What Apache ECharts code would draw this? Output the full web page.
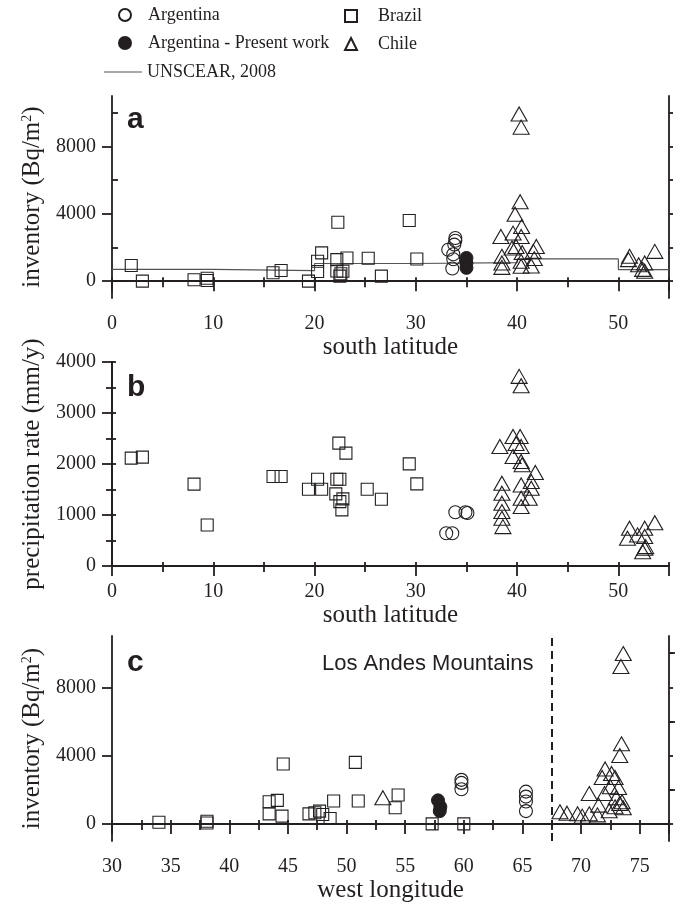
<!DOCTYPE html>
<html>
<head>
<meta charset="utf-8">
<script src="https://cdn.jsdelivr.net/npm/echarts@6/dist/echarts.min.js"></script>
<style>
html,body{margin:0;padding:0;background:#fff;}
#main{width:681px;height:909px;}
</style>
</head>
<body>
<div id="main"></div>
<script>
// panel a : inventory vs south latitude
var aBrazil=[[1.9,930],[3.0,0],[8.1,80],[9.4,170],[9.4,40],[15.9,500],[16.7,630],[19.4,0],[20.3,1180],[20.3,570],[20.7,1680],[22.3,3500],[22.2,1280],[22.2,600],[22.6,440],[22.8,590],[22.5,300],[23.2,1380],[25.3,1360],[26.6,300],[29.35,3600],[30.1,1320]];
var aArgentina=[[33.9,2560],[33.9,2400],[33.8,2170],[33.2,1870],[33.7,1600],[33.7,1300],[33.6,750]];
var aPresent=[[35.0,1380],[35.0,1080],[35.0,790]];
var aChile=[[40.2,9935],[40.4,9150],[40.3,4720],[39.8,3980],[40.45,3245],[39.6,2855],[38.4,2655],[40.4,2655],[39.5,1970],[39.9,2065],[41.9,2065],[40.5,1700],[41.6,1770],[38.5,1475],[41.7,1340],[38.5,1085],[38.5,820],[40.4,1180],[40.4,890],[41.4,900],[51.1,1475],[51.0,1280],[53.6,1770],[52.6,1085],[52.6,590],[52.4,700],[52.0,970]];
var bandStart=[0,10,20,30,40,50,55];
var unscear=[700,630,1050,1100,1320,690,690];

// panel b : precipitation rate vs south latitude
var bBrazil=[[1.9,2115],[3.0,2135],[8.1,1605],[9.4,805],[15.9,1755],[16.7,1755],[19.4,1505],[20.3,1700],[20.7,1505],[22.4,2410],[23.1,2213],[22.2,1700],[22.5,1700],[22.1,1414],[22.5,1263],[22.8,1316],[22.7,1100],[25.2,1505],[26.6,1310],[29.35,2003],[30.1,1610]];
var bArgentina=[[33.9,1055],[34.9,1055],[35.1,1040],[33.0,642],[33.6,642]];
var bChile=[[40.2,3718],[40.4,3535],[39.6,2540],[40.3,2540],[38.3,2343],[39.9,2400],[40.4,2343],[39.6,2147],[40.4,2050],[40.5,1985],[41.8,1833],[41.4,1656],[41.4,1525],[41.2,1330],[38.5,1624],[38.5,1427],[38.5,1231],[38.5,1067],[38.5,935],[38.6,772],[40.4,1590],[40.4,1330],[40.4,1165],[51.1,740],[50.9,545],[51.9,610],[52.6,740],[53.6,850],[52.6,580],[52.6,347],[52.4,280],[52.7,380]];

// panel c : inventory vs west longitude
var cBrazil=[[34.0,100],[38.1,160],[38.1,50],[44.6,3510],[43.4,1300],[44.1,1380],[43.4,590],[44.5,455],[46.8,590],[47.3,650],[47.7,750],[47.97,555],[48.6,320],[48.9,1340],[50.75,3605],[51.0,1340],[54.4,1695],[54.15,945],[57.3,0],[60.0,0]];
var cArgentina=[[59.8,2580],[59.8,2400],[59.8,2030],[65.3,1890],[65.3,1600],[65.3,1310],[65.3,750]];
var cPresent=[[57.8,1380],[58.0,1000],[57.95,750]];
var cChile=[[53.1,1535],[73.6,9970],[73.4,9220],[73.45,4690],[73.3,4000],[72.05,3215],[72.6,2950],[71.8,2720],[72.9,2720],[73.2,2130],[72.5,2170],[70.7,1775],[72.0,1775],[73.0,1535],[71.5,1100],[72.9,1000],[73.6,940],[68.2,710],[68.8,630],[69.7,590],[70.1,455],[70.7,590],[71.4,530],[72.4,770],[73.5,1300],[73.3,1200]];
var andesLon=67.5;

var invTicks=[0,4000,8000];
var invMinor=[2000,6000,10000];
var invRight=[0,2000,4000,6000,8000,10000];

var ink='#231f20';
var serif="'Liberation Serif','Times New Roman',serif";
var sans="'Liberation Sans',Arial,sans-serif";

var myChart=echarts.init(document.getElementById('main'));

var tickLbl={color:ink,fontFamily:serif,fontSize:20,margin:16,formatter:function(v){return String(v);}};
var nameSty={color:ink,fontFamily:serif,fontSize:25,
	rich:{sup:{fontSize:14,fontFamily:serif,color:ink,verticalAlign:'top',lineHeight:14}}};
var lineSty={color:ink,width:1.8};

function unscearLine(){
	var d=[];
	for(var i=0;i<bandStart.length;i++){d.push([bandStart[i],unscear[i]]);}
	return d;
}

var grids=[
	{left:112,right:12,top:96,height:202},
	{left:112,right:12,top:362,height:204},
	{left:112,right:12,top:636,height:205}
];

var xAxes=[];
var yAxes=[];
// bottom x axes
xAxes.push({gridIndex:0,type:'value',min:0,max:55,interval:10,name:'south latitude',nameLocation:'middle',nameGap:36,nameTextStyle:nameSty,
	axisLine:{lineStyle:lineSty},axisTick:{length:10,lineStyle:lineSty},minorTick:{show:true,splitNumber:2,length:6,lineStyle:lineSty},
	axisLabel:Object.assign({showMaxLabel:false},tickLbl),splitLine:{show:false}});
xAxes.push({gridIndex:1,type:'value',min:0,max:55,interval:10,name:'south latitude',nameLocation:'middle',nameGap:36,nameTextStyle:nameSty,
	axisLine:{lineStyle:lineSty},axisTick:{length:10,lineStyle:lineSty},minorTick:{show:true,splitNumber:2,length:6,lineStyle:lineSty},
	axisLabel:Object.assign({showMaxLabel:false},tickLbl),splitLine:{show:false}});
xAxes.push({gridIndex:2,type:'value',min:30,max:77.5,interval:5,name:'west longitude',nameLocation:'middle',nameGap:36,nameTextStyle:nameSty,
	axisLine:{lineStyle:lineSty},axisTick:{length:10,lineStyle:lineSty},minorTick:{show:true,splitNumber:2,length:6,lineStyle:lineSty},
	axisLabel:Object.assign({showMaxLabel:false},tickLbl),splitLine:{show:false}});
// top x axes (frame + small ticks)
xAxes.push({gridIndex:0,type:'value',position:'top',min:0,max:55,interval:5,axisLine:{lineStyle:lineSty},axisTick:{length:4,lineStyle:lineSty},axisLabel:{show:false},splitLine:{show:false}});
xAxes.push({gridIndex:1,type:'value',position:'top',min:0,max:55,interval:5,axisLine:{lineStyle:lineSty},axisTick:{length:4,lineStyle:lineSty},axisLabel:{show:false},splitLine:{show:false}});
xAxes.push({gridIndex:2,type:'value',position:'top',min:30,max:77.5,interval:2.5,axisLine:{lineStyle:lineSty},axisTick:{length:4,lineStyle:lineSty},axisLabel:{show:false},splitLine:{show:false}});

// left y axes
yAxes.push({gridIndex:0,type:'value',min:-1000,max:11000,name:'inventory (Bq/m{sup|2})',nameLocation:'middle',nameGap:67,nameTextStyle:nameSty,
	axisLine:{lineStyle:lineSty},axisTick:{length:10,customValues:invTicks,lineStyle:lineSty},
	axisLabel:Object.assign({customValues:invTicks},tickLbl,{margin:16}),splitLine:{show:false}});
yAxes.push({gridIndex:1,type:'value',min:0,max:4000,interval:1000,name:'precipitation rate (mm/y)',nameLocation:'middle',nameGap:67,nameTextStyle:nameSty,
	axisLine:{lineStyle:lineSty},axisTick:{length:10,lineStyle:lineSty},minorTick:{show:true,splitNumber:2,length:6,lineStyle:lineSty},
	axisLabel:Object.assign({},tickLbl,{margin:16}),splitLine:{show:false}});
yAxes.push({gridIndex:2,type:'value',min:-1000,max:11000,name:'inventory (Bq/m{sup|2})',nameLocation:'middle',nameGap:67,nameTextStyle:nameSty,
	axisLine:{lineStyle:lineSty},axisTick:{length:10,customValues:invTicks,lineStyle:lineSty},
	axisLabel:Object.assign({customValues:invTicks},tickLbl,{margin:16}),splitLine:{show:false}});
// minor ticks on the inventory axes
yAxes.push({gridIndex:0,type:'value',min:-1000,max:11000,axisLine:{show:false},axisTick:{length:6,customValues:invMinor,lineStyle:lineSty},axisLabel:{show:false},splitLine:{show:false}});
yAxes.push({gridIndex:2,type:'value',min:-1000,max:11000,axisLine:{show:false},axisTick:{length:6,customValues:invMinor,lineStyle:lineSty},axisLabel:{show:false},splitLine:{show:false}});
// right y axes
yAxes.push({gridIndex:0,type:'value',position:'right',min:-1000,max:11000,axisLine:{lineStyle:lineSty},axisTick:{length:4,customValues:invRight,lineStyle:lineSty},axisLabel:{show:false},splitLine:{show:false}});
yAxes.push({gridIndex:1,type:'value',position:'right',min:0,max:4000,interval:500,axisLine:{lineStyle:lineSty},axisTick:{length:4,lineStyle:lineSty},axisLabel:{show:false},splitLine:{show:false}});
yAxes.push({gridIndex:2,type:'value',position:'right',min:-1000,max:11000,axisLine:{lineStyle:lineSty},axisTick:{length:4,customValues:invRight,lineStyle:lineSty},axisLabel:{show:false},splitLine:{show:false}});

var hollow={color:'rgba(255,255,255,0)',borderColor:ink,borderWidth:1.1,opacity:1};
function pts(name,data,xi,yi,symbol,size,filled){
	return {name:name,type:'scatter',xAxisIndex:xi,yAxisIndex:yi,data:data,symbol:symbol,symbolSize:size,
		itemStyle:filled?{color:ink,borderColor:ink,borderWidth:1,opacity:1}:hollow,emphasis:{disabled:true},z:3};
}

var series=[
	{name:'UNSCEAR, 2008',type:'line',xAxisIndex:0,yAxisIndex:0,data:unscearLine(),step:'end',symbol:'none',showSymbol:false,
		lineStyle:{color:'#555',width:1.2},itemStyle:{color:'#555'},z:2},
	pts('Brazil',aBrazil,0,0,'rect',12),
	pts('Argentina',aArgentina,0,0,'circle',13),
	pts('Argentina - Present work',aPresent,0,0,'circle',13,true),
	pts('Chile',aChile,0,0,'triangle',[16,14]),
	pts('Brazil',bBrazil,1,1,'rect',12),
	pts('Argentina',bArgentina,1,1,'circle',13),
	pts('Chile',bChile,1,1,'triangle',[16,14]),
	pts('Brazil',cBrazil,2,2,'rect',12),
	pts('Argentina',cArgentina,2,2,'circle',13),
	pts('Argentina - Present work',cPresent,2,2,'circle',13,true),
	pts('Chile',cChile,2,2,'triangle',[16,14])
];
series[series.length-1].markLine={silent:true,symbol:'none',label:{show:false},
	lineStyle:{color:ink,width:2,type:[8,5]},data:[{xAxis:andesLon}]};

var legendText={color:ink,fontFamily:serif,fontSize:18,padding:[0,0,0,12]};
var option={
	animation:false,
	backgroundColor:'#fff',
	grid:grids,
	xAxis:xAxes,
	yAxis:yAxes,
	legend:[
		{orient:'vertical',left:118,top:6,padding:0,itemWidth:12,itemHeight:12,itemGap:10,
			data:[{name:'Argentina',icon:'circle'},{name:'Argentina - Present work',icon:'circle'}],textStyle:legendText,selectedMode:false},
		{orient:'vertical',left:104,top:63,padding:0,itemWidth:38,itemHeight:1.3,
			data:[{name:'UNSCEAR, 2008',icon:'path://M0,0H38V1H0Z'}],textStyle:{color:ink,fontFamily:serif,fontSize:18},selectedMode:false},
		{orient:'vertical',left:344,top:7,padding:0,itemWidth:12,itemHeight:12,itemGap:10,
			data:[{name:'Brazil',icon:'rect'},{name:'Chile',icon:'triangle'}],textStyle:Object.assign({},legendText,{padding:[0,0,0,16]}),selectedMode:false}
	],
	graphic:[
		{type:'text',style:{x:127,y:120,text:'a',fill:ink,font:'bold 30px '+sans,align:'left',verticalAlign:'middle'}},
		{type:'text',style:{x:127,y:388,text:'b',fill:ink,font:'bold 30px '+sans,align:'left',verticalAlign:'middle'}},
		{type:'text',style:{x:127,y:663,text:'c',fill:ink,font:'bold 30px '+sans,align:'left',verticalAlign:'middle'}},
		{type:'text',style:{x:322,y:664,text:'Los Andes Mountains',fill:ink,font:'22px '+sans,align:'left',verticalAlign:'middle'}}
	],
	series:series
};
myChart.setOption(option);
</script>
</body>
</html>
